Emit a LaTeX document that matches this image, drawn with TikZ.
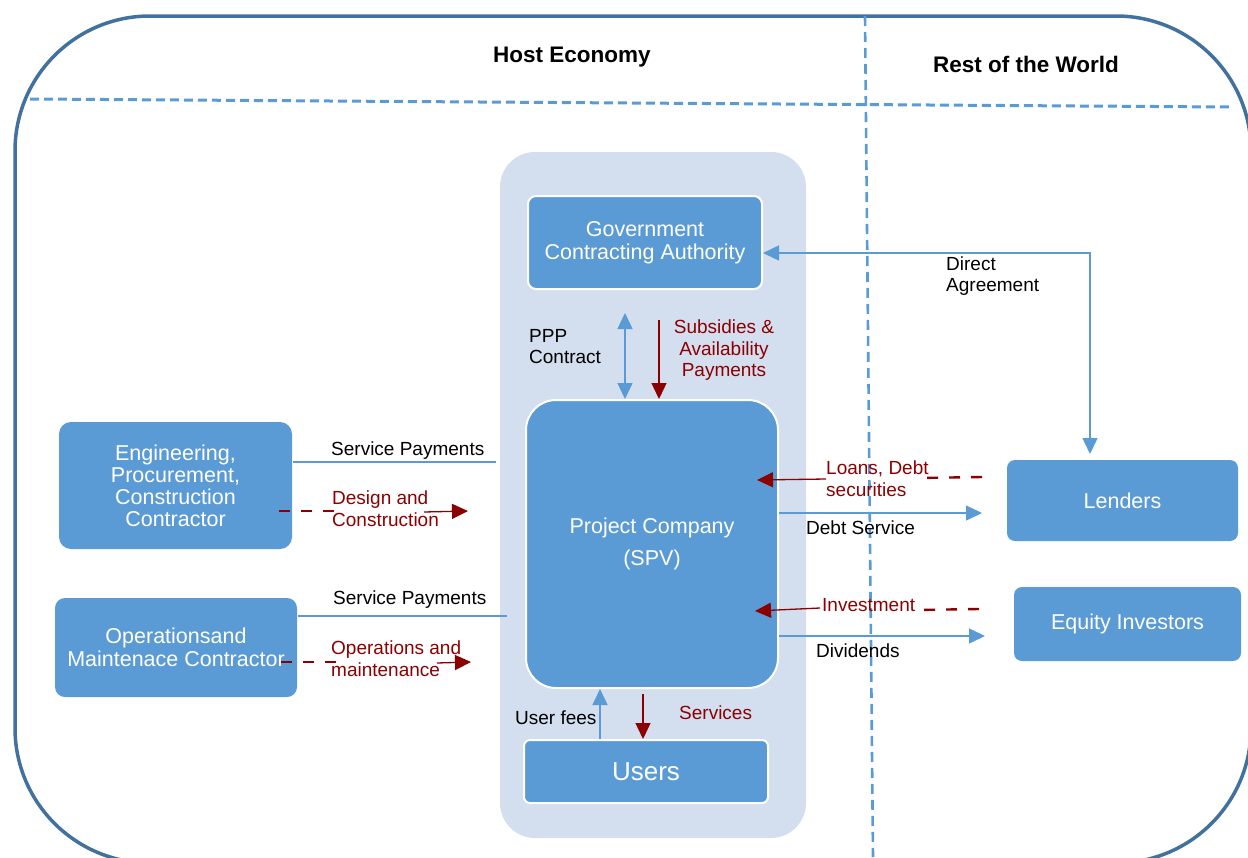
\documentclass[tikz,border=0pt]{standalone}
\usepackage{fontspec}
\setmainfont{Liberation Sans}
\usetikzlibrary{arrows.meta}
\definecolor{boxblue}{HTML}{5B9BD5}
\definecolor{panelblue}{HTML}{D3DEEF}
\definecolor{framecol}{HTML}{41719C}
\definecolor{darkred}{HTML}{8B0000}
\begin{document}
\begin{tikzpicture}[x=1pt,y=-1pt,
  box/.style={fill=boxblue, draw=white, line width=2pt, text=white, align=center,
    font=\fontsize{21.5}{23}\selectfont, inner sep=0pt},
  plainbox/.style={box, draw=none},
  lbl/.style={font=\fontsize{19}{21.5}\selectfont, text=black, inner sep=0pt, align=left, anchor=west},
  rlbl/.style={lbl, text=darkred},
  title/.style={font=\fontsize{22.5}{24}\selectfont\bfseries, text=black, inner sep=0pt},
  bl/.style={draw=boxblue, line width=1.5pt},
  rd/.style={draw=darkred, line width=1.3pt},
  rddash/.style={draw=darkred, line width=2.4pt, dash pattern=on 11pt off 11pt},
  divider/.style={draw=boxblue, line width=3pt, dash pattern=on 9pt off 5pt},
  barr/.style={-{Triangle[length=16pt,width=15pt]}},
  bboth/.style={{Triangle[length=16pt,width=15pt]}-{Triangle[length=16pt,width=15pt]}},
]
\useasboundingbox (0,0) rectangle (1248,857);
\clip (0,0) rectangle (1248,857);

% outer frame
\draw[framecol, line width=3.5pt, rounded corners=135pt] (15,16) rectangle (1251,863);

% dividers
\draw[divider] (30,99) -- (1230,107);
\draw[divider, dash pattern=on 10pt off 6pt, line width=2.6pt] (865,16) -- (873,857);

% titles
\node[title] (host) at (572,57) {Host Economy};
\node[title] (rest) at (1026,64) {Rest of the World};

% central panel
\node[fill=panelblue, rounded corners=35pt, minimum width=306pt, minimum height=686pt, inner sep=0pt] (panel) at (653,495) {};

% boxes
\node[box, rounded corners=8pt, minimum width=234pt, minimum height=93pt] (gov) at (645,242.5) {Government\\Contracting Authority};
\node[box, rounded corners=30pt, minimum width=252pt, minimum height=288pt, font=\fontsize{21.5}{32}\selectfont] (spv) at (652,544) {Project Company\\(SPV)};
\node[box, rounded corners=6pt, minimum width=244pt, minimum height=63pt, font=\fontsize{26}{28}\selectfont] (users) at (646,771.5) {Users};
\node[plainbox, rounded corners=12pt, minimum width=233pt, minimum height=127pt, font=\fontsize{21.5}{22}\selectfont] (epc) at (175.5,485.5) {Engineering,\\Procurement,\\Construction\\Contractor};
\node[plainbox, rounded corners=10pt, minimum width=242pt, minimum height=99pt] (om) at (176,647.5) {Operationsand\\Maintenace Contractor};
\node[plainbox, rounded corners=8pt, minimum width=231pt, minimum height=81pt] (lenders) at (1122.5,500.5) {Lenders};
\node[plainbox, rounded corners=8pt, minimum width=227pt, minimum height=74pt] (equity) at (1127.5,624) {Equity Investors};

% PPP contract
\coordinate (pppTop) at (625,313);
\draw[bl, bboth] (pppTop) -- (pppTop |- spv.north);
\node[lbl] (ppp) at (529,346.5) {PPP\\Contract};

% Subsidies
\coordinate (subTop) at (659,320);
\draw[rd, barr] (subTop) -- (subTop |- spv.north);
\node[lbl, text=darkred, align=center, anchor=center] (subs) at (724,350.5) {Subsidies \&\\Availability\\Payments};

% Direct agreement
\coordinate (daCorner) at (1090,253);
\draw[bl, bboth, shorten >=5pt] (gov.east |- daCorner) -- (daCorner) -- (daCorner |- lenders.north);
\node[lbl] (da) at (946,276) {Direct\\Agreement};

% Loans
\coordinate (loanR) at (982,477);
\coordinate (loanM) at (918,478);
\coordinate (loanL) at (826,479);
\coordinate (loanTip) at (757,480);
\draw[rddash] (loanR) -- (loanM);
\draw[rd, barr] (loanL) -- (loanTip);
\node[rlbl] (loans) at (826,478.5) {Loans, Debt\\securities};

% Debt service
\coordinate (dsEnd) at (982,513);
\draw[bl, barr] (spv.east |- dsEnd) -- (dsEnd);
\node[lbl] (ds) at (806,528) {Debt Service};

% Investment
\coordinate (invR) at (979,609);
\coordinate (invM) at (915,610);
\coordinate (invL) at (820,608);
\coordinate (invTip) at (755,611);
\draw[rddash] (invR) -- (invM);
\draw[rd, barr] (invL) -- (invTip);
\node[rlbl] (inv) at (822,605) {Investment};

% Dividends
\coordinate (divEnd) at (985,636);
\draw[bl, barr] (spv.east |- divEnd) -- (divEnd);
\node[lbl] (div) at (816,651) {Dividends};

% Service payments (EPC)
\coordinate (sp1End) at (496,462);
\draw[bl, line width=1.3pt] (epc.east |- sp1End) -- (sp1End);
\node[lbl] (sp1) at (331,451) {Service Payments};

% Design and construction
\coordinate (dcL) at (279,511);
\coordinate (dcM) at (340,511);
\coordinate (dcS) at (424,512);
\coordinate (dcTip) at (468,511);
\draw[rddash] (dcL) -- (dcM);
\draw[rd, barr] (dcS) -- (dcTip);
\node[rlbl] (dc) at (332,508.5) {Design and\\Construction};

% Service payments (O&M)
\coordinate (sp2End) at (507,616);
\draw[bl, line width=1.3pt] (om.east |- sp2End) -- (sp2End);
\node[lbl] (sp2) at (333,600) {Service Payments};

% Operations and maintenance
\coordinate (omL) at (281,662);
\coordinate (omM) at (347,662);
\coordinate (omS) at (437,663);
\coordinate (omTip) at (471,662);
\draw[rddash] (omL) -- (omM);
\draw[rd, barr] (omS) -- (omTip);
\node[rlbl] (omlbl) at (331,658.5) {Operations and\\maintenance};

% User fees
\coordinate (ufX) at (600,700);
\draw[bl, barr] (ufX |- users.north) -- (ufX |- spv.south);
\node[lbl] (uf) at (515,718) {User fees};

% Services
\coordinate (svTop) at (643,694);
\draw[rd, barr] (svTop) -- (svTop |- users.north);
\node[rlbl] (sv) at (679,713) {Services};
\end{tikzpicture}
\end{document}
